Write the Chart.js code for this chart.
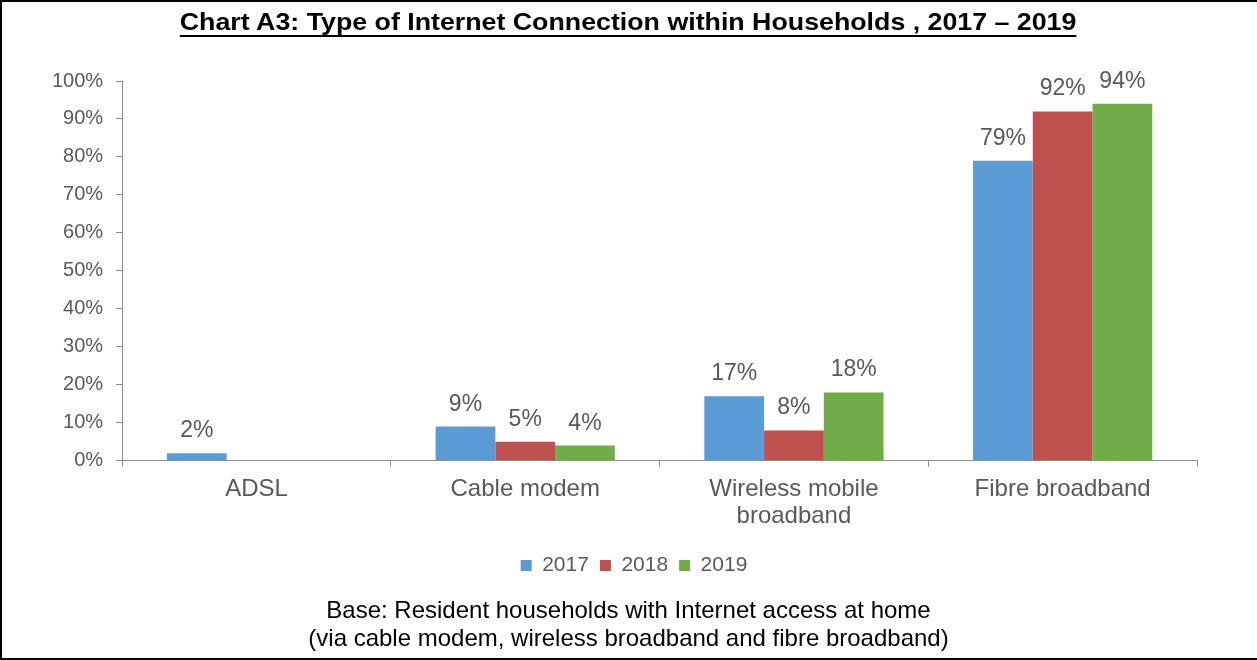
<!DOCTYPE html>
<html>
<head>
<meta charset="utf-8">
<script src="https://cdn.jsdelivr.net/npm/chart.js@4/dist/chart.umd.min.js"></script>
<style>
  html, body { margin: 0; padding: 0; background: #fff; }
  #wrap { position: relative; width: 1257px; height: 660px; overflow: hidden; font-family: "Liberation Sans", Arial, sans-serif; }
  #frame { position: absolute; left: 0; top: 0; width: 1262px; height: 656px; border: 2px solid #000; pointer-events: none; }
  #chart { position: absolute; left: 0; top: 0; }
  #title { position: absolute; left: 0; top: 8px; width: 1257px; text-align: center; }
  #title span { display: inline-block; transform: scaleX(1.115); font-weight: bold; font-size: 24px; text-decoration: underline; text-underline-offset: 5px; text-decoration-thickness: 2px; color: #000; }
  #note { position: absolute; left: 0; top: 596px; width: 1257px; text-align: center; font-size: 24px; line-height: 28px; color: #000; }
</style>
</head>
<body>
<div id="wrap">
  <canvas id="chart" width="1257" height="660"></canvas>
  <div id="title"><span>Chart A3: Type of Internet Connection within Households , 2017 – 2019</span></div>
  <div id="note">Base: Resident households with Internet access at home<br>(via cable modem, wireless broadband and fibre broadband)</div>
  <div id="frame"></div>
</div>
<script>
// Share of households by connection type (%)
const categories = ['ADSL', 'Cable modem', ['Wireless mobile', 'broadband'], 'Fibre broadband'];
const years = ['2017', '2018', '2019'];
const values2017 = [2, 9, 17, 79];
const values2018 = [null, 5, 8, 92];
const values2019 = [null, 4, 18, 94];
const yTicks = [0, 10, 20, 30, 40, 50, 60, 70, 80, 90, 100];

const colors = ['#5B9BD5', '#C0504D', '#70AD47'];
const axisGrey = '#8C8C8C';
const textGrey = '#595959';
const font = '"Liberation Sans", Arial, sans-serif';

// write the percentage above each bar
const barLabels = {
    id: 'barLabels',
    afterDatasetsDraw(chart) {
        const ctx = chart.ctx;
        ctx.save();
        ctx.font = '23px ' + font;
        ctx.fillStyle = textGrey;
        ctx.textAlign = 'center';
        ctx.textBaseline = 'alphabetic';
        chart.data.datasets.forEach((ds, i) => {
            chart.getDatasetMeta(i).data.forEach((bar, j) => {
                const v = ds.data[j];
                if (v === null) return;
                ctx.fillText(v + '%', bar.x, bar.y - 16);
            });
        });
        ctx.restore();
    }
};

// nudge the legend a little to the right of the padded centre
const legendShift = {
    id: 'legendShift',
    afterLayout(chart) {
        if (!chart.legend) return;
        chart.legend.left += 16;
        chart.legend.right += 16;
    }
};

new Chart(document.getElementById('chart'), {
    type: 'bar',
    data: {
        labels: categories,
        datasets: [values2017, values2018, values2019].map((d, i) => ({
            label: years[i],
            data: d,
            backgroundColor: colors[i],
            categoryPercentage: 0.667,
            barPercentage: 1.0
        }))
    },
    options: {
        responsive: false,
        animation: false,
        layout: { padding: { left: 39, right: 60, top: 81, bottom: 74 } },
        plugins: {
            title: { display: false },
            tooltip: { enabled: false },
            legend: {
                position: 'bottom',
                labels: {
                    boxWidth: 11,
                    boxHeight: 11,
                    color: textGrey,
                    font: { family: font, size: 21 },
                    padding: 11
                }
            }
        },
        scales: {
            x: {
                // extra room between the category labels and the legend
                afterFit(axis) { axis.height += 5; },
                grid: { display: true, drawOnChartArea: false, offset: true, tickLength: 6, color: axisGrey },
                border: { color: axisGrey, width: 1 },
                ticks: { color: textGrey, font: { family: font, size: 24, lineHeight: 1.13 }, padding: 9, maxRotation: 0, autoSkip: false }
            },
            y: {
                min: 0,
                max: 100,
                afterBuildTicks(axis) { axis.ticks = yTicks.map(v => ({ value: v })); },
                grid: { display: true, drawOnChartArea: false, tickLength: 6, color: axisGrey },
                border: { color: axisGrey, width: 1 },
                ticks: { color: textGrey, font: { family: font, size: 20 }, padding: 13, callback: v => v + '%' }
            }
        }
    },
    plugins: [barLabels, legendShift]
});
</script>
</body>
</html>
